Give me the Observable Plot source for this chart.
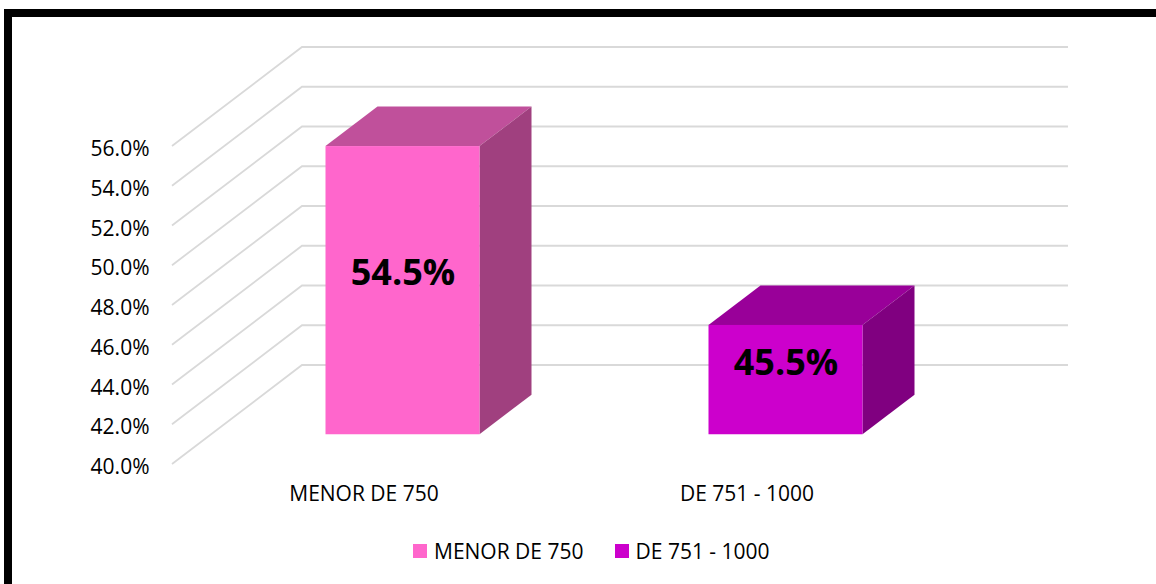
<!DOCTYPE html>
<html>
<head>
<meta charset="utf-8">
<script src="https://cdn.jsdelivr.net/npm/d3@7"></script>
<script src="https://cdn.jsdelivr.net/npm/@observablehq/plot@0.6"></script>
<style>
  html, body { margin: 0; padding: 0; background: #fff; }
  #page { position: relative; width: 1156px; height: 584px; overflow: hidden; background: #fff; font-family: "Open Sans", sans-serif; }
  #chart { position: absolute; left: 0; top: 0; }
  #topBorder { position: absolute; left: 4px; top: 9px; width: 1152px; height: 8px; background: #000; }
  #leftBorder { position: absolute; left: 4px; top: 9px; width: 8px; height: 575px; background: #000; }
  #legend { position: absolute; left: 413px; top: 537px; display: flex; align-items: center; font-size: 21px; color: #000; white-space: nowrap; }
  .item { display: flex; align-items: center; margin-right: 31px; }
  .sw { width: 14px; height: 14px; margin-right: 7px; }
</style>
</head>
<body>
<div id="page">
  <div id="chart"></div>
  <div id="topBorder"></div>
  <div id="leftBorder"></div>
  <div id="legend"></div>
</div>
<script>
// ---- data ----
const categories = ["MENOR DE 750", "DE 751 - 1000"];
const values = [54.5, 45.5];
const yTicks = [40, 42, 44, 46, 48, 50, 52, 54, 56];

// ---- styles ----
const frontColors = ["#FF66CC", "#CC00CC"];
const topColors = ["#C0509B", "#990099"];
const sideColors = ["#A0407F", "#800080"];
const gridColor = "#D9D9D9";
const BASE = 40;
// 3D projection offsets (pixels)
const WALL = {dx: 130, dy: -99};      // full depth of the floor / side wall
const FRONT = {dx: 39, dy: -29.75};   // bar front plane offset
const BOX = {dx: 52, dy: -39.5};      // bar depth
const INSET = 114.5;

const data = categories.map((c, i) => ({cat: c, value: values[i], i}));

function walls(index, scales, values_, dim) {
  const g = d3.create("svg:g").attr("stroke", gridColor).attr("stroke-width", 1.8).attr("fill", "none");
  const xl = dim.marginLeft;
  const xr = dim.width - dim.marginRight;
  for (const t of yTicks) {
    const y = scales.y(t);
    g.append("path").attr("d", `M${xl},${y}L${xl + WALL.dx},${y + WALL.dy}L${xr + WALL.dx},${y + WALL.dy}`);
  }
  return g.node();
}

function boxes(index, scales) {
  const g = d3.create("svg:g");
  const bw = scales.x.bandwidth();
  for (const d of data) {
    const x0 = scales.x(d.cat) + INSET + FRONT.dx;
    const x1 = scales.x(d.cat) + bw - INSET + FRONT.dx;
    const yt = scales.y(d.value) + FRONT.dy;
    const yb = scales.y(BASE) + FRONT.dy;
    g.append("path")
      .attr("d", `M${x0},${yt}L${x1},${yt}L${x1 + BOX.dx},${yt + BOX.dy}L${x0 + BOX.dx},${yt + BOX.dy}Z`)
      .attr("fill", topColors[d.i]);
    g.append("path")
      .attr("d", `M${x1},${yt}L${x1 + BOX.dx},${yt + BOX.dy}L${x1 + BOX.dx},${yb + BOX.dy}L${x1},${yb}Z`)
      .attr("fill", sideColors[d.i]);
  }
  return g.node();
}

const chart = Plot.plot({
  width: 1156,
  height: 520,
  marginLeft: 172,
  marginRight: 218,
  marginTop: 146,
  marginBottom: 56,
  style: {fontFamily: "Open Sans", fontSize: "21px", color: "#000", background: "transparent"},
  x: {domain: categories, range: [172, 938], padding: 0, label: null},
  y: {domain: [40, 56], range: [464, 146], label: null},
  color: {domain: categories, range: frontColors},
  marks: [
    walls,
    boxes,
    Plot.barY(data, {x: "cat", y1: BASE, y2: "value", fill: "cat", insetLeft: INSET, insetRight: INSET, dx: FRONT.dx, dy: FRONT.dy}),
    Plot.text(data, {x: "cat", y: d => (d.value + BASE) / 2, text: d => d.value.toFixed(1) + "%", dx: FRONT.dx, dy: FRONT.dy - 17, fontSize: 36, fontWeight: "bold", fill: "#000"}),
    Plot.axisY({ticks: yTicks, tickFormat: d => d.toFixed(1) + "%", tickSize: 0, tickPadding: 23, dy: 3, fontSize: 21, label: null}),
    Plot.axisX({tickSize: 0, tickPadding: 22, fontSize: 21, label: null})
  ]
});
document.getElementById("chart").appendChild(chart);

const legend = document.getElementById("legend");
categories.forEach((c, i) => {
  const it = document.createElement("div");
  it.className = "item";
  const sw = document.createElement("div");
  sw.className = "sw";
  sw.style.background = frontColors[i];
  const tx = document.createElement("span");
  tx.textContent = c;
  it.appendChild(sw); it.appendChild(tx);
  legend.appendChild(it);
});
</script>
</body>
</html>
